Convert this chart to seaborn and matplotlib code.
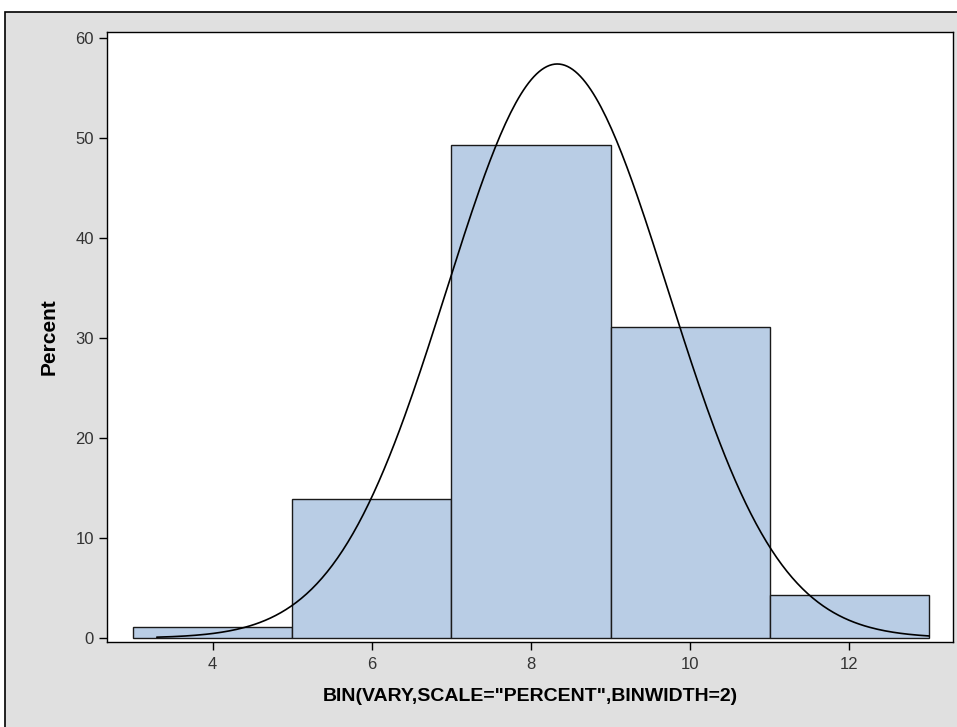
import numpy as np
import pandas as pd
import matplotlib
matplotlib.use("Agg")
import matplotlib.pyplot as plt
from matplotlib.patches import Rectangle
import seaborn as sns

# Data
bin_edges = [3, 5, 7, 9, 11, 13]
bin_percent = [1.1, 13.9, 49.3, 31.1, 4.3]
curve_mean = 8.33
curve_sd = 1.39
bin_width = 2
x_ticks = [4, 6, 8, 10, 12]
y_ticks = [0, 10, 20, 30, 40, 50, 60]
x_label = 'BIN(VARY,SCALE="PERCENT",BINWIDTH=2)'
y_label = "Percent"

sns.set_theme(style="white")
plt.rcParams["font.family"] = ["Liberation Sans", "DejaVu Sans"]

fig = plt.figure(figsize=(9.57, 7.27), dpi=100)
fig.patch.set_facecolor("white")
# outer SAS-like gray frame
frame = Rectangle((5 / 957, -0.05), 1.1, 1 - 12 / 727 + 0.05,
                  transform=fig.transFigure, facecolor="#e0e0e0",
                  edgecolor="black", linewidth=1.2, zorder=-10)
fig.add_artist(frame)

ax = fig.add_axes([107 / 957, 1 - 642 / 727, (953 - 107) / 957, (642 - 32) / 727])
ax.set_zorder(1)
ax.set_facecolor("white")

centers = [(a + b) / 2 for a, b in zip(bin_edges[:-1], bin_edges[1:])]
df = pd.DataFrame({"x": centers, "pct": bin_percent})
sns.histplot(data=df, x="x", weights="pct", bins=bin_edges, ax=ax,
             color="#b9cde5", alpha=1.0, edgecolor="#1a1a1a", linewidth=1.0)

xs = np.linspace(3.3, 13.0, 300)
ys = 100 * bin_width * np.exp(-0.5 * ((xs - curve_mean) / curve_sd) ** 2) / (curve_sd * np.sqrt(2 * np.pi))
sns.lineplot(x=xs, y=ys, ax=ax, color="black", linewidth=1.2)

ax.set_xlim(2.675, 13.3)
ax.set_ylim(-0.4, 60.6)
ax.set_xticks(x_ticks)
ax.set_yticks(y_ticks)
ax.tick_params(axis="both", which="both", direction="out", length=6, width=1,
               color="black", labelsize=12, labelcolor="#333333", pad=3.5,
               bottom=True, left=True)
ax.tick_params(axis="x", pad=5)
for s in ax.spines.values():
    s.set_visible(True)
    s.set_color("black")
    s.set_linewidth(1.0)

ax.set_xlabel(x_label, fontsize=14, fontweight="bold", color="black", labelpad=11)
ax.set_ylabel(y_label, fontsize=15, fontweight="bold", color="black", labelpad=12)

fig.savefig("out.png", dpi=100)
